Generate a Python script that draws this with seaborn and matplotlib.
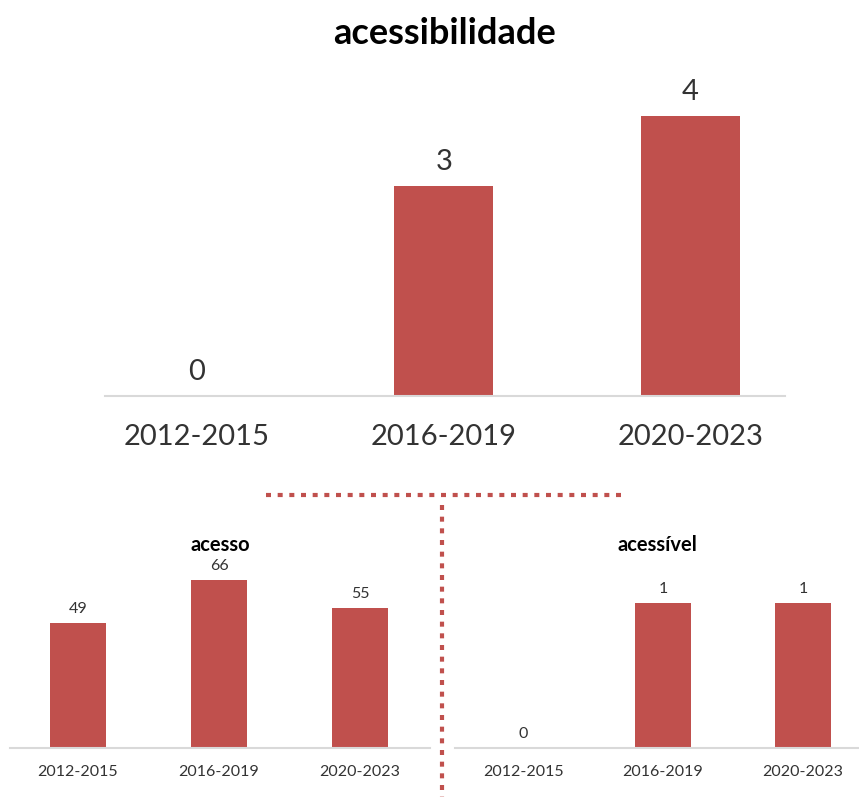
import matplotlib
matplotlib.use("Agg")
import matplotlib.pyplot as plt
from matplotlib.lines import Line2D
import seaborn as sns

# ---- data ----
periods = ["2012-2015", "2016-2019", "2020-2023"]
acessibilidade = [0, 3, 4]
acesso = [49, 66, 55]
acessivel = [0, 1, 1]

BAR = "#C0504D"
TXT = "#333333"
AXC = "#D9D9D9"

sns.set_theme(style="white")
plt.rcParams["font.family"] = ["Lato", "DejaVu Sans"]

W, H = 859, 799
fig = plt.figure(figsize=(W / 100, H / 100), dpi=100)


def px_axes(left, right, top, bottom):
    return fig.add_axes([left / W, 1 - bottom / H, (right - left) / W, (bottom - top) / H])


def draw(ax, values, title, xlim, ylim, tick_fs, val_fs, title_fs, tick_pad, val_pad, title_pad):
    sns.barplot(x=periods, y=values, ax=ax, color=BAR, saturation=1, width=0.4,
                edgecolor="none", order=periods)
    ax.set_xlim(*xlim)
    ax.set_ylim(*ylim)
    for s in ["top", "right", "left"]:
        ax.spines[s].set_visible(False)
    ax.spines["bottom"].set_color(AXC)
    ax.spines["bottom"].set_linewidth(1.5)
    ax.set_yticks([])
    ax.set_xlabel("")
    ax.set_ylabel("")
    ax.tick_params(axis="x", length=0, pad=tick_pad, labelsize=tick_fs, labelcolor=TXT)
    ax.bar_label(ax.containers[0], labels=[str(v) for v in values], padding=val_pad,
                 fontsize=val_fs, color=TXT)
    ax.set_title(title, fontsize=title_fs, fontweight="bold", color="black", pad=title_pad)
    ax.patch.set_alpha(0)


# top chart
ax1 = px_axes(105, 785, 81, 396)
draw(ax1, acessibilidade, "acessibilidade", (-0.373, 2.383), (0, 4.5),
     tick_fs=21, val_fs=21, title_fs=26, tick_pad=20, val_pad=8, title_pad=27)

# bottom-left chart
ax2 = px_axes(10, 430, 557, 748)
draw(ax2, acesso, "acesso", (-0.482, 2.496), (0, 75),
     tick_fs=11.5, val_fs=11.5, title_fs=14.5, tick_pad=12, val_pad=5, title_pad=4)

# bottom-right chart
ax3 = px_axes(455, 859, 559, 748)
draw(ax3, acessivel, "acessível", (-0.486, 2.4), (0, 1.3),
     tick_fs=11.5, val_fs=11.5, title_fs=14.5, tick_pad=12, val_pad=5, title_pad=6)

# dotted separators
dot = dict(color=BAR, linewidth=3, linestyle=(0, (1.2, 1.6)), solid_capstyle="butt",
           dash_capstyle="butt", transform=fig.transFigure)
fig.add_artist(Line2D([266 / W, 626 / W], [1 - 495 / H, 1 - 495 / H], **dot))
fig.add_artist(Line2D([441.5 / W, 441.5 / W], [1 - 505 / H, 1 - 797 / H], **dot))

fig.savefig("out.png", dpi=100, facecolor="white")
